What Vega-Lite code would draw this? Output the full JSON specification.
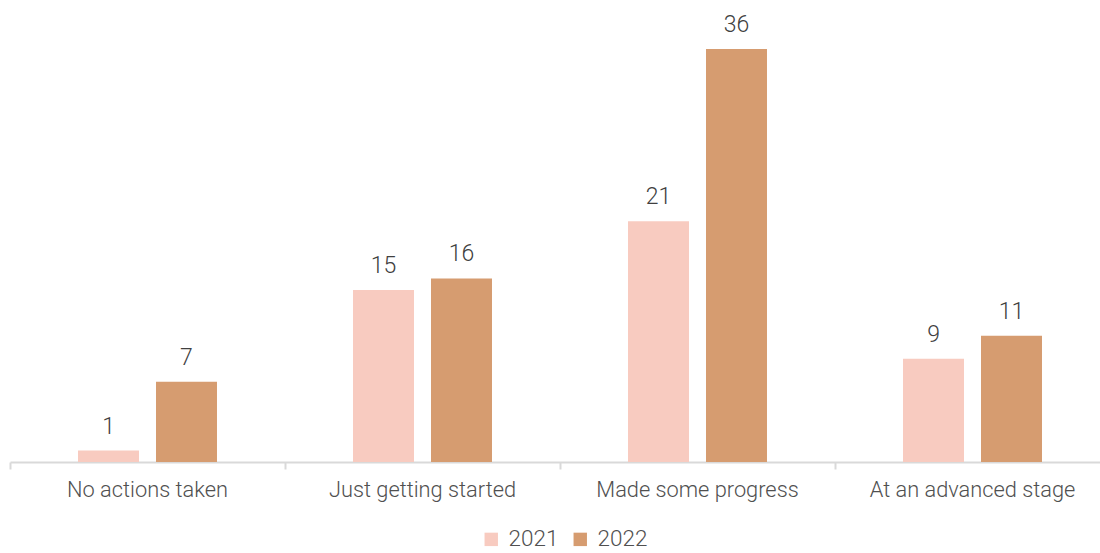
{
  "$schema": "https://vega.github.io/schema/vega-lite/v6.json",
  "width": 1090,
  "height": 462,
  "autosize": "none",
  "padding": {"left": 10, "top": 0, "right": 0, "bottom": 91},
  "config": {"view": {"stroke": null}, "font": "Roboto"},
  "data": {
    "values": [
      {"stage": "No actions taken", "year": "2021", "value": 1},
      {"stage": "No actions taken", "year": "2022", "value": 7},
      {"stage": "Just getting started", "year": "2021", "value": 15},
      {"stage": "Just getting started", "year": "2022", "value": 16},
      {"stage": "Made some progress", "year": "2021", "value": 21},
      {"stage": "Made some progress", "year": "2022", "value": 36},
      {"stage": "At an advanced stage", "year": "2021", "value": 9},
      {"stage": "At an advanced stage", "year": "2022", "value": 11}
    ]
  },
  "encoding": {
    "x": {
      "field": "stage", "type": "nominal", "sort": null,
      "scale": {"paddingInner": 0, "paddingOuter": 0, "range": [0, 1100]},
      "axis": {
        "title": null, "labelAngle": 0, "labelFontSize": 21.8, "labelFontWeight": 300, "labelColor": "#505050",
        "labelLimit": 0, "labelPadding": 10, "domainColor": "#D9D9D9", "domainWidth": 2,
        "tickColor": "#D9D9D9", "tickWidth": 2, "tickSize": 7, "bandPosition": 0
      }
    },
    "xOffset": {
      "field": "year", "type": "nominal",
      "scale": {"paddingInner": 0.218, "paddingOuter": 0.872}
    },
    "y": {
      "field": "value", "type": "quantitative",
      "scale": {"domain": [0, 40.28], "nice": false, "zero": true},
      "axis": null
    }
  },
  "layer": [
    {
      "mark": {"type": "bar"},
      "encoding": {
        "color": {
          "field": "year", "type": "nominal",
          "scale": {"domain": ["2021", "2022"], "range": ["#F8CBC0", "#D69C70"]},
          "legend": {
            "title": null, "orient": "none", "direction": "horizontal",
            "legendX": 470, "legendY": 528,
            "symbolType": "square", "symbolSize": 180, "symbolStrokeWidth": 0,
            "labelFontSize": 22.5, "labelFontWeight": 300, "labelColor": "#505050", "columnPadding": 10, "labelOffset": 6
          }
        }
      }
    },
    {
      "mark": {"type": "text", "baseline": "bottom", "dy": -12, "fontSize": 23, "fontWeight": 300, "color": "#404040"},
      "encoding": {"text": {"field": "value", "type": "quantitative"}}
    }
  ]
}
